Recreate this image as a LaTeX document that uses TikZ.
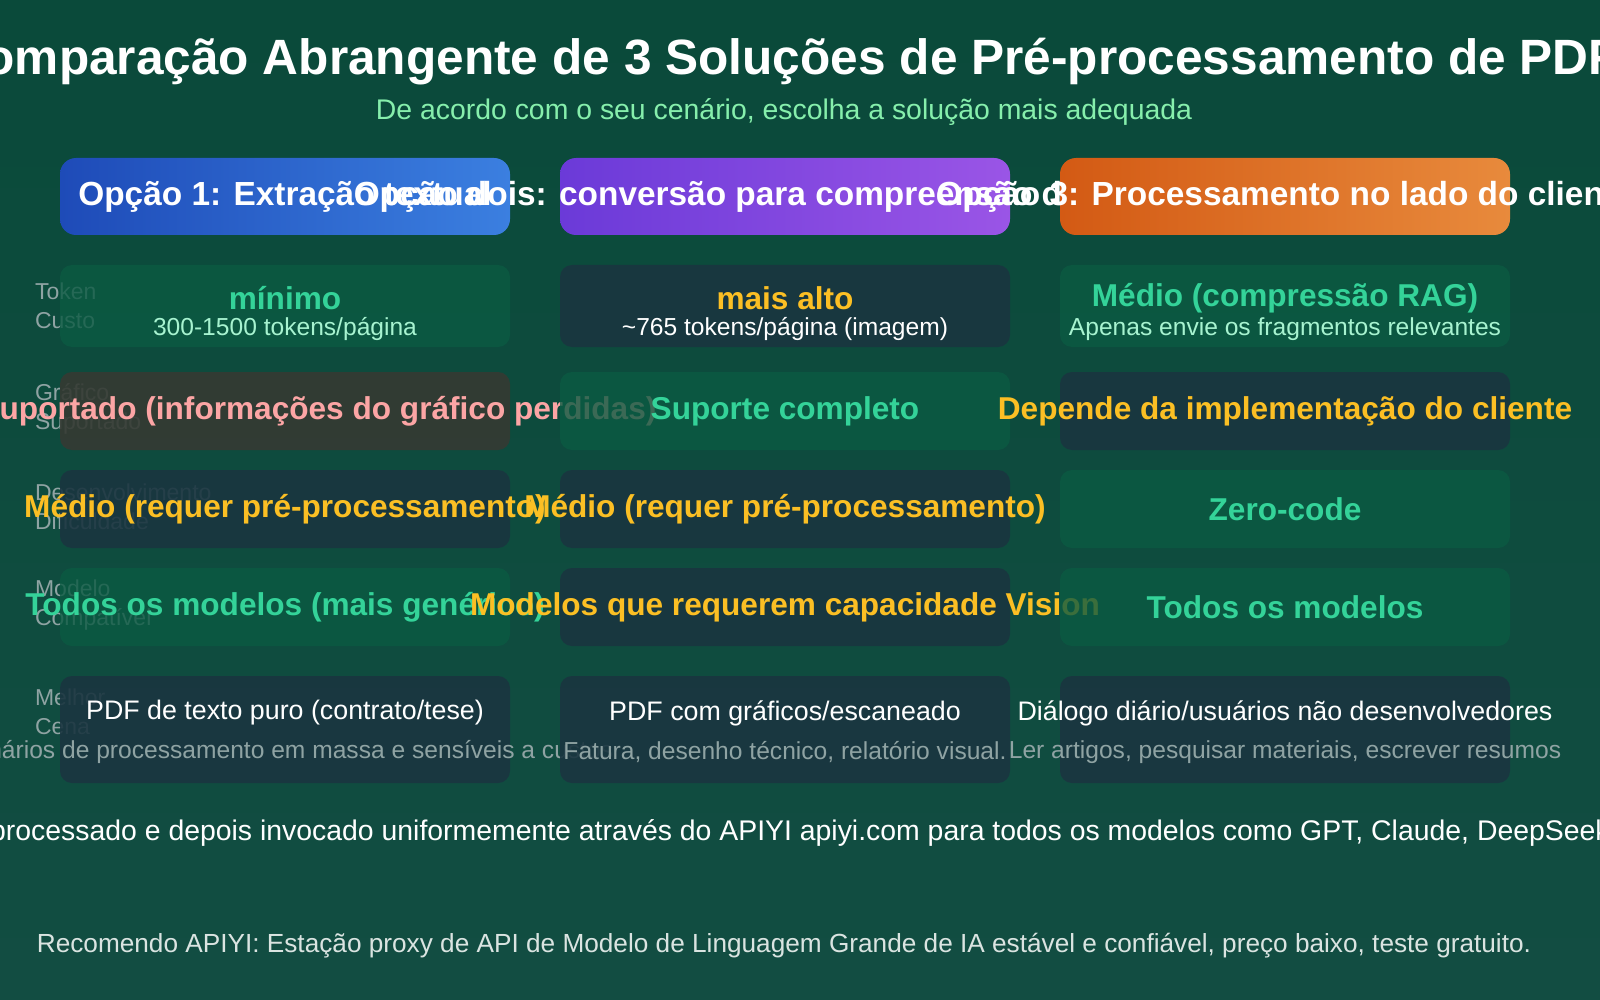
\documentclass[tikz,border=0pt]{standalone}
\usepackage{fontspec}
\setmainfont{Liberation Sans}
\usetikzlibrary{shadings}
\definecolor{bgA}{HTML}{0A4A3A}
\definecolor{bgB}{HTML}{124D42}
\definecolor{gtxt}{HTML}{34D399}
\definecolor{ytxt}{HTML}{FBBF24}
\definecolor{ptxt}{HTML}{FCA5A5}
\definecolor{ltxt}{HTML}{A7F3D0}
\definecolor{subg}{HTML}{86EFAC}
\definecolor{lab}{HTML}{8FA3A3}
\definecolor{cgood}{HTML}{0B5A42}
\definecolor{cneu}{HTML}{1A3540}
\definecolor{cbad}{HTML}{353A33}
\definecolor{bl1}{HTML}{1E4BB8}\definecolor{bl2}{HTML}{3B7FE0}
\definecolor{pu1}{HTML}{6B3AD8}\definecolor{pu2}{HTML}{9A55E6}
\definecolor{or1}{HTML}{D35A14}\definecolor{or2}{HTML}{E88A3C}
\tikzset{
 cell/.style={rounded corners=6pt, draw=none},
 hdr/.style={rounded corners=8pt, draw=none},
 htext/.style={text=white, font=\bfseries\fontsize{16.7}{20}\selectfont},
 big/.style={font=\bfseries\fontsize{15.8}{19}\selectfont},
 small/.style={font=\fontsize{12.3}{15}\selectfont},
 mid/.style={font=\fontsize{13.4}{16}\selectfont},
 lbl/.style={text=lab, font=\fontsize{11.5}{14.5}\selectfont, align=left, anchor=west},
}
\begin{document}
\begin{tikzpicture}[x=0.5pt,y=-0.5pt]
\shade[top color=bgA, bottom color=bgB] (0,0) rectangle (1600,1000);
\useasboundingbox (0,0) rectangle (1600,1000);
\node[text=white, font=\bfseries\fontsize{24.8}{28}\selectfont] (title) at (784,62) {Comparação Abrangente de 3 Soluções de Pré-processamento de PDF};
\node[text=subg, font=\fontsize{14.2}{17}\selectfont] (sub) at (784,112) {De acordo com o seu cenário, escolha a solução mais adequada};
% headers
\shade[hdr, left color=bl1, right color=bl2] (60,158) rectangle (510,235);
\node[htext] (h1) at (285,197) {Opção 1: Extração textual};
\shade[hdr, left color=pu1, right color=pu2] (560,158) rectangle (1010,235);
\node[htext] (h2) at (785,197) {Opção dois: conversão para compreensão de imagem};
\shade[hdr, left color=or1, right color=or2] (1060,158) rectangle (1510,235);
\node[htext] (h3) at (1285,197) {Opção 3: Processamento no lado do cliente};
% row labels
\node[lbl] (l1) at (28,306) {Token\\Custo};
\node[lbl] (l2) at (28,409) {Gráfico\\Suportado};
\node[lbl] (l3) at (28,507) {Desenvolvimento\\Dificuldade};
\node[lbl] (l4) at (28,605) {Modelo\\Compatível};
\node[lbl] (l5) at (28,712) {Melhor\\Cena};
% row 1
\fill[cell, cgood, opacity=.8] (60,265) rectangle (510,347);
\node[big, text=gtxt] (a1) at (285,298) {mínimo};
\node[small, text=ltxt] (a1s) at (285,329) {300-1500 tokens/página};
\fill[cell, cneu, opacity=.9] (560,265) rectangle (1010,347);
\node[big, text=ytxt] (b1) at (785,298) {mais alto};
\node[small, text=white] (b1s) at (785,329) {\textasciitilde765 tokens/página (imagem)};
\fill[cell, cgood, opacity=.8] (1060,265) rectangle (1510,347);
\node[big, text=gtxt] (c1) at (1285,298) {Médio (compressão RAG)};
\node[small, text=ltxt] (c1s) at (1285,329) {Apenas envie os fragmentos relevantes};
% row 2
\fill[cell, cbad, opacity=.9] (60,372) rectangle (510,450);
\node[big, text=ptxt] (a2) at (285,411) {Não suportado (informações do gráfico perdidas)};
\fill[cell, cgood, opacity=.8] (560,372) rectangle (1010,450);
\node[big, text=gtxt] (b2) at (785,411) {Suporte completo};
\fill[cell, cneu, opacity=.9] (1060,372) rectangle (1510,450);
\node[big, text=ytxt] (c2) at (1285,411) {Depende da implementação do cliente};
% row 3
\fill[cell, cneu, opacity=.9] (60,470) rectangle (510,548);
\node[big, text=ytxt] (a3) at (285,509) {Médio (requer pré-processamento)};
\fill[cell, cneu, opacity=.9] (560,470) rectangle (1010,548);
\node[big, text=ytxt] (b3) at (785,509) {Médio (requer pré-processamento)};
\fill[cell, cgood, opacity=.8] (1060,470) rectangle (1510,548);
\node[big, text=gtxt] (c3) at (1285,509) {Zero-code};
% row 4
\fill[cell, cgood, opacity=.8] (60,568) rectangle (510,646);
\node[big, text=gtxt] (a4) at (285,607) {Todos os modelos (mais genérico)};
\fill[cell, cneu, opacity=.9] (560,568) rectangle (1010,646);
\node[big, text=ytxt] (b4) at (785,607) {Modelos que requerem capacidade Vision};
\fill[cell, cgood, opacity=.8] (1060,568) rectangle (1510,646);
\node[big, text=gtxt] (c4) at (1285,607) {Todos os modelos};
% row 5
\fill[cell, cneu, opacity=.9] (60,676) rectangle (510,783);
\node[mid, text=white] (a5) at (285,713) {PDF de texto puro (contrato/tese)};
\node[small, text=lab] (a5s) at (285,752) {Cenários de processamento em massa e sensíveis a custos};
\fill[cell, cneu, opacity=.9] (560,676) rectangle (1010,783);
\node[mid, text=white] (b5) at (785,713) {PDF com gráficos/escaneado};
\node[small, text=lab] (b5s) at (785,752) {Fatura, desenho técnico, relatório visual.};
\fill[cell, cneu, opacity=.9] (1060,676) rectangle (1510,783);
\node[mid, text=white] (c5) at (1285,713) {Diálogo diário/usuários não desenvolvedores};
\node[small, text=lab] (c5s) at (1285,752) {Ler artigos, pesquisar materiais, escrever resumos};
% footer
\node[font=\fontsize{14.2}{17}\selectfont, text=white] (foot) at (800,833) {processado e depois invocado uniformemente através do APIYI apiyi.com para todos os modelos como GPT, Claude, DeepSeek};
\node[font=\fontsize{13.1}{16}\selectfont, text=white!85!bgA] (rec) at (784,946) {Recomendo APIYI: Estação proxy de API de Modelo de Linguagem Grande de IA estável e confiável, preço baixo, teste gratuito.};
\end{tikzpicture}
\end{document}
